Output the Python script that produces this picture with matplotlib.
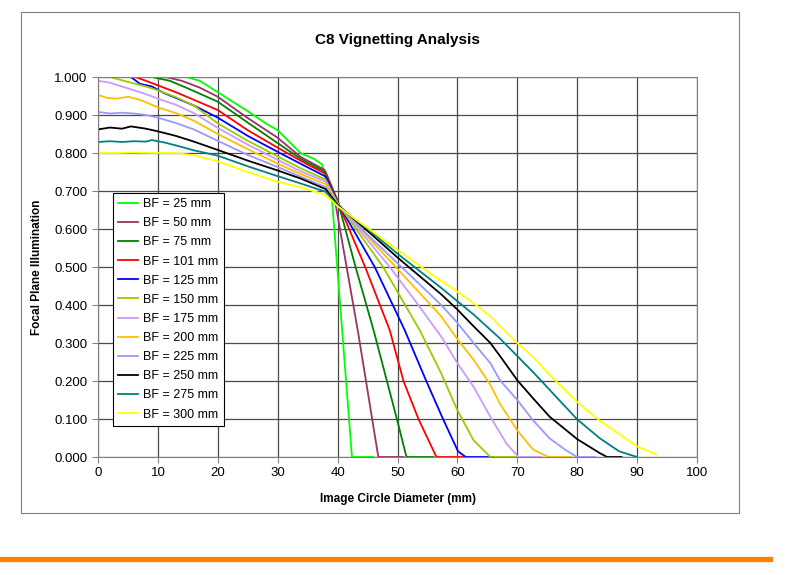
import matplotlib.pyplot as plt
from matplotlib.patches import Rectangle
from matplotlib.lines import Line2D

plt.rcParams['font.family'] = ['Liberation Sans', 'DejaVu Sans']

# BF = 25 mm
bf25_x = [0, 5, 10, 14.7, 17, 20, 22, 25, 28, 30, 33.8, 36, 37.4, 39.1, 42.4, 46]
bf25_y = [1, 1, 1, 1, 0.99, 0.96, 0.94, 0.91, 0.878, 0.86, 0.80, 0.785, 0.77, 0.67, 0, 0]

# BF = 50 mm
bf50_x = [0, 5, 11.3, 14, 17, 20, 25, 30, 33.8, 37.8, 39.5, 43.4, 46.8, 51]
bf50_y = [1, 1, 1, 0.99, 0.972, 0.948, 0.892, 0.84, 0.79, 0.756, 0.68, 0.33, 0, 0]

# BF = 75 mm
bf75_x = [0, 5, 9, 12, 15, 20, 25, 30, 33.8, 38, 40, 43, 46, 49.9, 51.5, 56]
bf75_y = [1, 1, 1, 0.99, 0.97, 0.935, 0.88, 0.826, 0.785, 0.75, 0.675, 0.5, 0.334, 0.1, 0, 0]

# BF = 101 mm
bf101_x = [0, 3, 6.2, 8, 10, 13, 16, 20, 25, 30, 33.8, 38, 40, 44.6, 48.7, 51, 53.5, 56.5, 61]
bf101_y = [1, 1, 1, 0.99, 0.978, 0.96, 0.94, 0.913, 0.86, 0.814, 0.78, 0.745, 0.672, 0.5, 0.334, 0.2, 0.1, 0, 0]

# BF = 125 mm
bf125_x = [0, 3, 5.5, 7, 9, 11, 13, 16, 20, 25, 30, 33.8, 38, 40, 46.2, 51.2, 54.8, 57.6, 60.1, 61.4, 66]
bf125_y = [1, 1, 1, 0.982, 0.975, 0.958, 0.945, 0.925, 0.893, 0.845, 0.803, 0.772, 0.738, 0.67, 0.5, 0.334, 0.2, 0.1, 0.015, 0, 0]

# BF = 150 mm
bf150_x = [0, 2, 5, 8, 10, 13, 16, 20, 25, 30, 33.8, 38, 40, 47.6, 53.7, 57.3, 60, 62.7, 65.5, 70]
bf150_y = [1, 1, 0.987, 0.975, 0.965, 0.947, 0.925, 0.878, 0.832, 0.791, 0.76, 0.73, 0.668, 0.5, 0.334, 0.22, 0.123, 0.044, 0, 0]

# BF = 175 mm
bf175_x = [0, 2, 5, 8, 10, 13, 16, 20, 25, 30, 33.8, 38, 40, 48.7, 53, 57.3, 60, 62.7, 65.5, 68.2, 70.2, 74]
bf175_y = [0.99, 0.985, 0.97, 0.955, 0.943, 0.927, 0.905, 0.866, 0.822, 0.782, 0.752, 0.725, 0.667, 0.5, 0.41, 0.317, 0.247, 0.185, 0.106, 0.035, 0, 0]

# BF = 200 mm
bf200_x = [0, 1.5, 3, 5, 7, 10, 13, 16, 20, 25, 30, 33.8, 38, 40, 45, 50, 57.3, 60, 62.7, 65.5, 67.1, 70, 72.6, 75.2, 79]
bf200_y = [0.953, 0.945, 0.943, 0.948, 0.94, 0.92, 0.905, 0.885, 0.85, 0.81, 0.772, 0.745, 0.718, 0.666, 0.58, 0.495, 0.37, 0.31, 0.256, 0.19, 0.14, 0.07, 0.02, 0, 0]

# BF = 225 mm
bf225_x = [0, 2, 4, 6, 8, 10, 13, 16, 20, 25, 30, 33.8, 38, 40, 45, 50, 57.3, 60, 62.7, 65.5, 67.1, 70, 72.6, 75.4, 78.1, 80, 83]
bf225_y = [0.908, 0.904, 0.906, 0.904, 0.9, 0.893, 0.879, 0.862, 0.832, 0.795, 0.763, 0.738, 0.71, 0.665, 0.585, 0.51, 0.4, 0.353, 0.3, 0.247, 0.202, 0.15, 0.097, 0.049, 0.018, 0, 0]

# BF = 250 mm
bf250_x = [0, 2, 4, 5.5, 8, 10, 13, 16, 20, 25, 30, 33.8, 38, 40, 45, 50, 57.3, 60, 62.7, 65.5, 67.1, 70, 72.6, 75.4, 80, 83.8, 85, 87.4]
bf250_y = [0.862, 0.867, 0.864, 0.87, 0.864, 0.857, 0.845, 0.83, 0.808, 0.78, 0.754, 0.733, 0.705, 0.664, 0.595, 0.525, 0.428, 0.388, 0.344, 0.3, 0.266, 0.202, 0.155, 0.106, 0.047, 0.01, 0, 0]

# BF = 275 mm
bf275_x = [0, 2, 4, 6, 8, 9, 11, 13, 16, 20, 25, 30, 33.8, 38, 40, 45, 50, 57.3, 60, 62.7, 65.5, 67.1, 72.6, 80, 83.8, 87, 90]
bf275_y = [0.829, 0.831, 0.829, 0.831, 0.83, 0.834, 0.828, 0.82, 0.807, 0.793, 0.765, 0.739, 0.72, 0.698, 0.662, 0.6, 0.535, 0.445, 0.41, 0.375, 0.335, 0.312, 0.224, 0.099, 0.049, 0.015, 0]

# BF = 300 mm
bf300_x = [0, 3, 6, 9, 12.9, 16, 20, 25, 30, 33.8, 38, 40, 45, 50, 57.3, 60, 62.7, 65.5, 67.1, 70, 72.6, 75.4, 80, 83.8, 90, 93.2]
bf300_y = [0.8, 0.8, 0.801, 0.8, 0.8, 0.794, 0.778, 0.75, 0.724, 0.71, 0.69, 0.66, 0.603, 0.545, 0.463, 0.435, 0.405, 0.37, 0.345, 0.3, 0.264, 0.216, 0.145, 0.095, 0.028, 0.007]

series = [
    ("BF = 25 mm", bf25_x, bf25_y, "#00FF00"),
    ("BF = 50 mm", bf50_x, bf50_y, "#993366"),
    ("BF = 75 mm", bf75_x, bf75_y, "#008000"),
    ("BF = 101 mm", bf101_x, bf101_y, "#FF0000"),
    ("BF = 125 mm", bf125_x, bf125_y, "#0000FF"),
    ("BF = 150 mm", bf150_x, bf150_y, "#99CC00"),
    ("BF = 175 mm", bf175_x, bf175_y, "#CC99FF"),
    ("BF = 200 mm", bf200_x, bf200_y, "#FFC000"),
    ("BF = 225 mm", bf225_x, bf225_y, "#9999FF"),
    ("BF = 250 mm", bf250_x, bf250_y, "#000000"),
    ("BF = 275 mm", bf275_x, bf275_y, "#008080"),
    ("BF = 300 mm", bf300_x, bf300_y, "#FFFF00"),
]

fig = plt.figure(figsize=(8, 5.75), dpi=100)
ax = fig.add_axes([98/800, 1-457/575, 599/800, 380/575])

for label, xs, ys, col in series:
    ax.plot(xs, ys, color=col, lw=1.3, label=label)

ax.set_xlim(0, 100)
ax.set_ylim(0, 1)
ax.set_xticks(range(0, 101, 10))
ax.set_yticks([i/10 for i in range(11)])
ax.set_yticklabels(["%.3f" % (i/10) for i in range(11)])
ax.grid(True, color="#4a4a4a", lw=0.9)
ax.set_axisbelow(True)
for s in ax.spines.values():
    s.set_color("#808080")
ax.tick_params(labelsize=9.5, length=4, color="#808080")

ax.set_title("C8 Vignetting Analysis", fontsize=11, fontweight="bold", pad=23.5)
ax.set_xlabel("Image Circle Diameter (mm)", fontsize=8.5, fontweight="bold", labelpad=10)
ax.set_ylabel("Focal Plane Illumination", fontsize=8.5, fontweight="bold", labelpad=8)

leg = ax.legend(loc="upper left", bbox_to_anchor=(0.025, 0.695), borderaxespad=0, fontsize=9,
                handlelength=1.6, labelspacing=0.57, borderpad=0.42,
                handletextpad=0.4, fancybox=False, framealpha=1)
leg.get_frame().set_edgecolor("#000000")
leg.get_frame().set_linewidth(0.8)

# outer chart frame and orange footer bar
fig.patches.append(Rectangle((21/800, 1-513/575), 718/800, 501/575, transform=fig.transFigure,
                             fill=False, edgecolor="#808080", lw=0.8))
fig.lines.append(Line2D([0, 770/800], [1-559/575, 1-559/575], transform=fig.transFigure,
                        color="#FF8000", lw=3.8))

fig.savefig("out.png", dpi=100)
